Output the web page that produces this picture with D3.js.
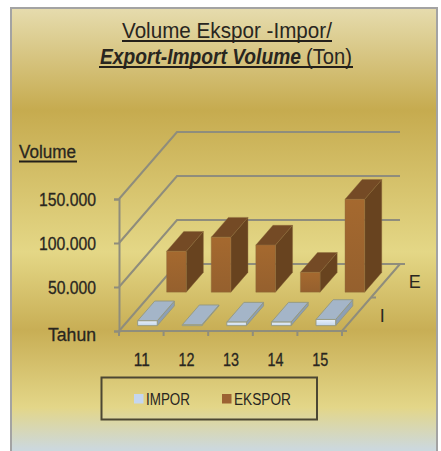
<!DOCTYPE html>
<html>
<head>
<meta charset="utf-8">
<script src="https://cdn.jsdelivr.net/npm/d3@7"></script>
<style>
  html, body { margin: 0; padding: 0; background: #fff; }
  svg { display: block; }
  text { font-family: "Liberation Sans", Arial, sans-serif; fill: #29261f; }
  .lbl { stroke: #29261f; stroke-width: 0.3px; }
</style>
</head>
<body>
<div id="chart"></div>
<script>
const years = ["11", "12", "13", "14", "15"];
const impor = [5500, 1000, 4000, 4000, 7000];
const ekspor = [46500, 62500, 53500, 22500, 105500];
const seriesKeys = ["I", "E"];
const yTicks = [0, 50000, 100000, 150000];
const yTickLabels = ["Tahun", "50.000", "100.000", "150.000"];
const legendLabels = ["IMPOR", "EKSPOR"];

const WIDTH = 441, HEIGHT = 451;
const PLOT = { LEFT: 119, RIGHT: 342, TOP: 199, BOTTOM: 331 };
const DEPTH = { DX: 58, DY: -67 };

const svg = d3.select("#chart").append("svg")
  .attr("width", WIDTH)
  .attr("height", HEIGHT);

// latar gradasi
const defs = svg.append("defs");
const bg = defs.append("linearGradient").attr("id", "bg")
  .attr("x1", 0).attr("y1", 0).attr("x2", 0).attr("y2", 1);
[[0, "#e6dcae"], [0.227, "#c6ab4f"], [0.542, "#e4d786"], [0.716, "#c8ae55"], [0.887, "#e3d688"], [0.98, "#ccd8dd"], [1, "#ccd8dd"]]
  .forEach(([o, c]) => bg.append("stop").attr("offset", o).attr("stop-color", c));

function faceGradient(id, top, bottom) {
  const g = defs.append("linearGradient").attr("id", id)
    .attr("x1", 0).attr("y1", 0).attr("x2", 0).attr("y2", 1);
  g.append("stop").attr("offset", 0).attr("stop-color", top);
  g.append("stop").attr("offset", 1).attr("stop-color", bottom);
}
faceGradient("eFront", "#a5692f", "#95602e");
faceGradient("iFront", "#e8f0fa", "#c3d6ec");

svg.append("rect")
  .attr("x", 11).attr("y", 8)
  .attr("width", 426).attr("height", 450)
  .attr("fill", "url(#bg)")
  .attr("stroke", "#a3a3a3")
  .attr("stroke-width", 2);

// skala
const x = d3.scaleBand().domain(years).range([PLOT.LEFT + 1.5, PLOT.RIGHT + 1.5])
  .paddingInner(0.56).paddingOuter(0.28);
const y = d3.scaleLinear().domain([0, 150000]).range([PLOT.BOTTOM, PLOT.TOP]);
const depth = d3.scaleBand().domain(seriesKeys).range([0, 1])
  .paddingInner(0.41).paddingOuter(0.205).align(0.39);

const px = (xVal, d) => xVal + d * DEPTH.DX;
const py = (v, d) => y(v) + d * DEPTH.DY;
const pt = (xVal, d, v) => [px(xVal, d), py(v, d)];
const line = d3.line();

// dinding dan lantai
const GRID = "#8f8d7c";
const walls = svg.append("g").attr("fill", "none").attr("stroke", GRID).attr("stroke-width", 2);
yTicks.forEach(t => {
  walls.append("path").attr("d", line([
    pt(PLOT.LEFT, 0, t), pt(PLOT.LEFT, 1, t), pt(PLOT.RIGHT, 1, t)
  ]));
});
walls.append("path").attr("d", line([
  pt(PLOT.RIGHT, 1, 0), pt(PLOT.RIGHT, 0, 0), pt(PLOT.LEFT, 0, 0)
]));

// sumbu y
const yAxis = svg.append("g")
  .attr("transform", `translate(${PLOT.LEFT},0)`)
  .call(d3.axisLeft(y).tickValues(yTicks)
    .tickFormat((d, i) => yTickLabels[i])
    .tickSize(5).tickPadding(18));
yAxis.select(".domain").attr("stroke", GRID).attr("stroke-width", 2);
yAxis.selectAll("line").attr("stroke", GRID).attr("stroke-width", 2);
yAxis.selectAll("text")
  .attr("class", "lbl")
  .attr("font-size", 18)
  .attr("font-family", null)
  .attr("fill", null)
  .attr("dy", (d, i) => i === 0 ? "0.52em" : "0.36em")
  .attr("textLength", (d, i) => [48, 48, 57, 57][i])
  .attr("lengthAdjust", "spacingAndGlyphs");

// tick sumbu x
const xTickPos = d3.range(years.length + 1).map(i => PLOT.LEFT + i * x.step());
svg.append("g").selectAll("line").data(xTickPos).join("line")
  .attr("x1", d => d).attr("x2", d => d)
  .attr("y1", PLOT.BOTTOM).attr("y2", PLOT.BOTTOM + 5)
  .attr("stroke", GRID).attr("stroke-width", 2);

// tick sumbu kedalaman
svg.append("g").selectAll("line").data([0, 0.5, 1]).join("line")
  .attr("x1", d => px(PLOT.RIGHT, d)).attr("x2", d => px(PLOT.RIGHT, d) + 5)
  .attr("y1", d => py(0, d)).attr("y2", d => py(0, d))
  .attr("stroke", GRID).attr("stroke-width", 2);

// batang 3D
function drawBars(key, values, front, side, topFace, edge, edgeWidth) {
  const d0 = depth(key), d1 = d0 + depth.bandwidth();
  const bars = svg.append("g").selectAll("g").data(years).join("g");
  const w = x.bandwidth();
  bars.append("path").attr("fill", side).attr("stroke", edge).attr("stroke-width", edgeWidth)
    .attr("d", (d, i) => line([
      pt(x(d) + w, d0, 0), pt(x(d) + w, d1, 0), pt(x(d) + w, d1, values[i]), pt(x(d) + w, d0, values[i])
    ]) + "Z");
  bars.append("path").attr("fill", topFace).attr("stroke", edge).attr("stroke-width", edgeWidth)
    .attr("d", (d, i) => line([
      pt(x(d), d0, values[i]), pt(x(d) + w, d0, values[i]), pt(x(d) + w, d1, values[i]), pt(x(d), d1, values[i])
    ]) + "Z");
  bars.append("path").attr("fill", front).attr("stroke", edge).attr("stroke-width", edgeWidth)
    .attr("d", (d, i) => line([
      pt(x(d), d0, 0), pt(x(d) + w, d0, 0), pt(x(d) + w, d0, values[i]), pt(x(d), d0, values[i])
    ]) + "Z");
}
drawBars("E", ekspor, "url(#eFront)", "#68431f", "#744a25", "#8a6a3c", 0.4);
drawBars("I", impor, "url(#iFront)", "#8c9fb5", "#a4b5c8", "#94977f", 0.9);

// label kategori
svg.append("g").selectAll("text").data(years).join("text")
  .attr("class", "lbl")
  .attr("x", d => x(d) + x.bandwidth() / 2 - 1)
  .attr("y", 366)
  .attr("text-anchor", "middle")
  .attr("font-size", 18)
  .attr("textLength", 16)
  .attr("lengthAdjust", "spacingAndGlyphs")
  .text(d => d);

// label seri
svg.append("g").selectAll("text").data(seriesKeys).join("text")
  .attr("x", d => px(PLOT.RIGHT, depth(d) + depth.bandwidth()) + 16)
  .attr("y", d => py(0, depth(d) + depth.bandwidth()) + 16)
  .attr("font-size", 18)
  .text(d => d);

// judul, dipersempit dengan scale supaya pas lebarnya
function fitText(sel, left, baseline, width) {
  const natural = sel.node().getComputedTextLength();
  sel.attr("transform", `translate(${left},${baseline}) scale(${width / natural},1)`);
}
fitText(svg.append("text").attr("font-size", 22).text("Volume Ekspor -Impor/"), 122, 38, 210);
fitText(svg.append("text").attr("font-size", 22)
  .attr("font-weight", "bold").attr("font-style", "italic")
  .text("Export-Import Volume"), 100, 64, 201);
fitText(svg.append("text").attr("font-size", 22).text("(Ton)"), 306, 64, 46);

const rules = [[122, 332, 41], [99, 353, 67], [19, 77, 161.5]];
svg.append("g").selectAll("line").data(rules).join("line")
  .attr("x1", d => d[0]).attr("x2", d => d[1])
  .attr("y1", d => d[2]).attr("y2", d => d[2])
  .attr("stroke", "#231f1a").attr("stroke-width", 2);

svg.append("text").attr("class", "lbl").attr("x", 19).attr("y", 158)
  .attr("font-size", 18)
  .attr("textLength", 57).attr("lengthAdjust", "spacingAndGlyphs")
  .text("Volume");

// legenda
svg.append("rect")
  .attr("x", 101.5).attr("y", 377.5)
  .attr("width", 215.5).attr("height", 42)
  .attr("fill", "none").attr("stroke", "#4c4733").attr("stroke-width", 2);
const legendColors = ["#c5d6ef", "#9c6233"];
const legendX = [134, 222];
const legendW = [44, 57];
const legend = svg.append("g").selectAll("g").data(legendLabels).join("g")
  .attr("transform", (d, i) => `translate(${legendX[i]},394)`);
legend.append("rect").attr("width", 9.5).attr("height", 9.5)
  .attr("fill", (d, i) => legendColors[i]);
legend.append("text").attr("x", 12).attr("y", 11)
  .attr("font-size", 16)
  .attr("textLength", (d, i) => legendW[i]).attr("lengthAdjust", "spacingAndGlyphs")
  .text(d => d);
</script>
</body>
</html>
